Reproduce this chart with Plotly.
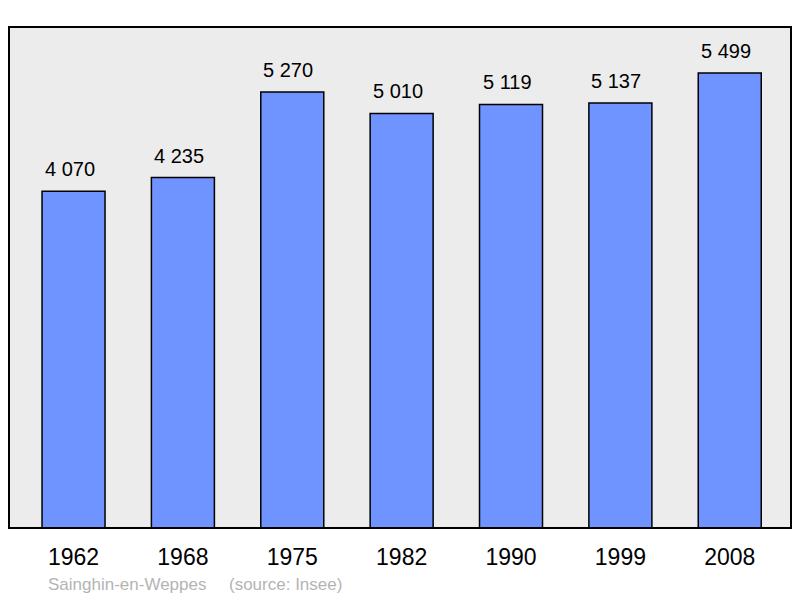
import plotly.graph_objects as go

years = ["1962", "1968", "1975", "1982", "1990", "1999", "2008"]
population = [4070, 4235, 5270, 5010, 5119, 5137, 5499]
town = "Sainghin-en-Weppes"
source = "(source: Insee)"

labels = [f"{v:,}".replace(",", " ") for v in population]

fig = go.Figure()
fig.add_trace(go.Bar(
    x=years, y=population,
    width=0.576,
    marker=dict(color="#7094ff", line=dict(color="#000000", width=1.5)),
    hoverinfo="x+y",
))

# value labels above the bars (category index as x)
notes = []
for i, (v, lab) in enumerate(zip(population, labels)):
    notes.append(dict(x=i, y=v, xref="x", yref="y", text=lab, showarrow=False,
                      yanchor="bottom", yshift=9, xshift=-4,
                      font=dict(size=20, color="#000000")))

notes.append(dict(text=town, xref="paper", yref="paper", x=(46 - 9) / 782, y=-0.112,
                  xanchor="left", yanchor="middle", showarrow=False,
                  font=dict(size=17, color="#b4b4b4")))
notes.append(dict(text=source, xref="paper", yref="paper", x=(227 - 9) / 782, y=-0.112,
                  xanchor="left", yanchor="middle", showarrow=False,
                  font=dict(size=17, color="#b4b4b4")))

fig.update_layout(
    width=800, height=598,
    margin=dict(l=9, r=9, t=27, b=70),
    paper_bgcolor="#ffffff",
    plot_bgcolor="#ececec",
    showlegend=False,
    font=dict(family="Liberation Sans, Arial", color="#000000"),
    xaxis=dict(type="category", range=[-0.59, 6.56], showgrid=False, zeroline=False, ticks="",
               tickfont=dict(size=23, color="#000000"), ticklabelstandoff=13),
    yaxis=dict(range=[0, 6055], visible=False, showgrid=False, zeroline=False),
    shapes=[dict(type="rect", xref="paper", yref="paper", x0=0, x1=1, y0=0, y1=1,
                 line=dict(color="#000000", width=2))],
    annotations=notes,
)

fig.write_html("out.html", config={"displayModeBar": False},
               post_script="document.body.style.margin='0';")
